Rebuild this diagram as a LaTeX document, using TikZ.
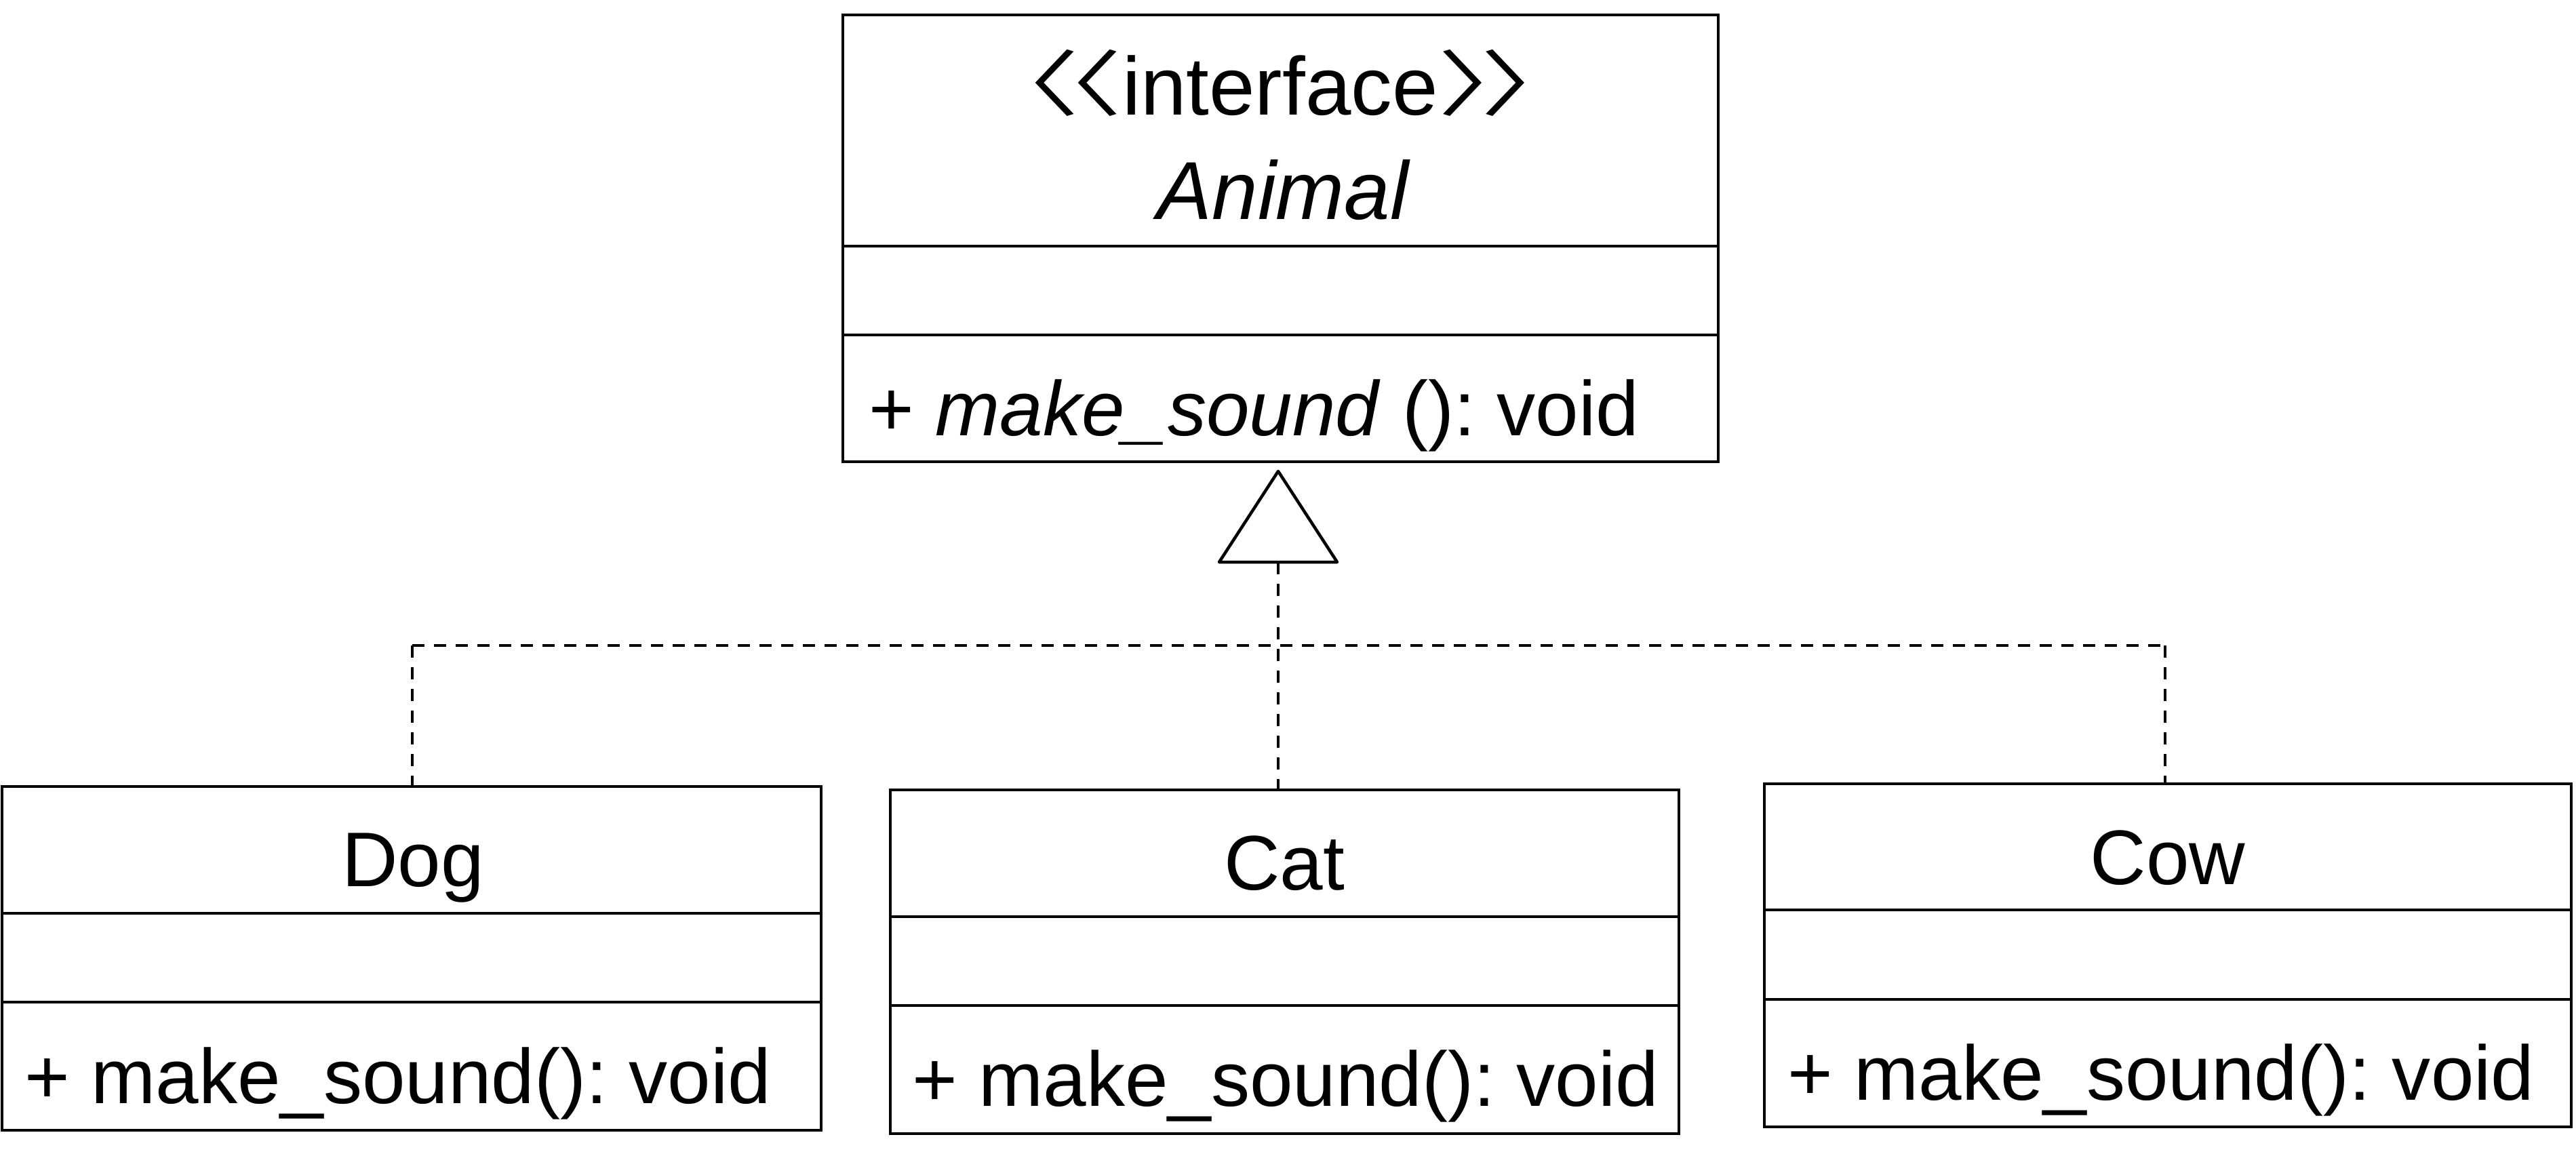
\documentclass[tikz,border=0pt]{standalone}
\usepackage{graphicx}
\usepackage{fontspec}
\setmainfont{Liberation Sans}
\newfontfamily\cjkfont{Noto Sans CJK JP}
\newcommand{\umlLtGlyph}{\raisebox{0.06em}{\scalebox{1.3}[0.87]{\cjkfont 〈}}}
\newcommand{\umlGtGlyph}{\raisebox{0.06em}{\scalebox{1.3}[0.87]{\cjkfont 〉}}}
\newcommand{\umlOpen}{\kern-0.82em\umlLtGlyph\kern-0.78em\umlLtGlyph}
\newcommand{\umlClose}{\umlGtGlyph\kern-0.78em\umlGtGlyph\kern-0.82em}
\frenchspacing
\begin{document}
\begin{tikzpicture}[
  box/.style={draw, line width=0.045cm, inner sep=0, outer sep=0, anchor=north west},
  lbl/.style={inner sep=0, outer sep=0, font=\fontsize{32.5}{38}\selectfont},
  big/.style={inner sep=0, outer sep=0, font=\fontsize{34.5}{40}\selectfont},
  dep/.style={draw, dash pattern=on 0.18cm off 0.14cm, line width=0.045cm}
]
\useasboundingbox (0,0) rectangle (37.99,-17.32);
% Animal
\node[box, minimum width=12.91cm, minimum height=3.41cm] (animalT) at (12.43,-0.22) {};
\node[box, minimum width=12.91cm, minimum height=1.31cm] (animalA) at (12.43,-3.63) {};
\node[box, minimum width=12.91cm, minimum height=1.87cm] (animalM) at (12.43,-4.94) {};
\node[big, anchor=base] (animalS) at (18.88,-1.70) {\umlOpen interface\umlClose};
\node[big, anchor=base] (animalN) at (18.92,-3.23) {\itshape Animal};
\node[lbl, anchor=base west] (animalOp) at (12.81,-6.42) {+ \textit{make\_sound} (): void};
% Dog
\node[box, minimum width=12.08cm, minimum height=1.87cm] (dogT) at (0.03,-11.60) {};
\node[box, minimum width=12.08cm, minimum height=1.31cm] (dogA) at (0.03,-13.47) {};
\node[box, minimum width=12.08cm, minimum height=1.89cm] (dogM) at (0.03,-14.78) {};
\node[lbl, anchor=base] (dogN) at (6.09,-13.07) {Dog};
\node[lbl, anchor=base west] (dogOp) at (0.36,-16.27) {+ make\_sound(): void};
% Cat
\node[box, minimum width=11.63cm, minimum height=1.87cm] (catT) at (13.13,-11.65) {};
\node[box, minimum width=11.63cm, minimum height=1.31cm] (catA) at (13.13,-13.52) {};
\node[box, minimum width=11.63cm, minimum height=1.89cm] (catM) at (13.13,-14.83) {};
\node[lbl, anchor=base] (catN) at (18.94,-13.12) {Cat};
\node[lbl, anchor=base west] (catOp) at (13.45,-16.31) {+ make\_sound(): void};
% Cow
\node[box, minimum width=11.90cm, minimum height=1.86cm] (cowT) at (26.02,-11.56) {};
\node[box, minimum width=11.90cm, minimum height=1.32cm] (cowA) at (26.02,-13.42) {};
\node[box, minimum width=11.90cm, minimum height=1.88cm] (cowM) at (26.02,-14.74) {};
\node[lbl, anchor=base] (cowN) at (31.97,-13.04) {Cow};
\node[lbl, anchor=base west] (cowOp) at (26.36,-16.22) {+ make\_sound(): void};
% realization triangle
\coordinate (tip) at (18.85,-6.95);
\coordinate (bl) at (17.98,-8.29);
\coordinate (br) at (19.72,-8.29);
\coordinate (tb) at (18.85,-8.29);
\draw[line width=0.045cm, line join=round] (tip) -- (bl) -- (br) -- cycle;
% connectors
\coordinate (dj) at (6.08,-9.52);
\coordinate (cj) at (31.93,-9.52);
\draw[dep] (dj) -- (cj);
\draw[dep] (tb) -- (tb |- catT.north);
\draw[dep] (dj) -- (dj |- dogT.north);
\draw[dep] (cj) -- (cj |- cowT.north);
\end{tikzpicture}
\end{document}
